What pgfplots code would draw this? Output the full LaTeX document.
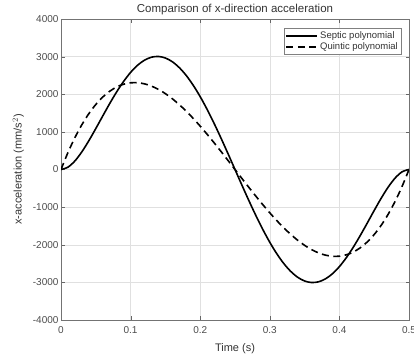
\documentclass[border=0pt]{standalone}
\usepackage{pgfplots}
\pgfplotsset{compat=1.18}
\usepackage{fontspec}
\setmainfont{Liberation Sans}
\begin{document}
\begin{tikzpicture}
\useasboundingbox (-61pt,-35pt) rectangle (353pt,320pt);
\begin{axis}[
  at={(0,0)}, anchor=south west,
  scale only axis,
  width=348pt, height=301pt,
  xmin=0, xmax=0.5, ymin=-4000, ymax=4000,
  xtick={0,0.1,0.2,0.3,0.4,0.5},
  ytick={-4000,-3000,-2000,-1000,0,1000,2000,3000,4000},
  /pgf/number format/1000 sep={},
  /pgf/number format/assume math mode=true,
  xticklabel style={/pgf/number format/fixed, font=\fontsize{10}{11}\selectfont, text=black!70, yshift=-3pt},
  yticklabel style={font=\fontsize{10}{11}\selectfont, text=black!70, xshift=1pt},
  tick align=inside,
  major tick length=3.5pt,
  tick style={black!60},
  axis line style={black!55},
  grid=major,
  grid style={black!12, line width=0.4pt},
  title={Comparison of x-direction acceleration},
  title style={font=\fontsize{11.5}{12}\selectfont, text=black!80, yshift=-5pt},
  xlabel={Time (s)},
  ylabel={x-acceleration (mm/s$^2$)},
  xlabel style={font=\fontsize{11}{12}\selectfont, text=black!80, yshift=-3pt},
  ylabel style={font=\fontsize{11}{12}\selectfont, text=black!80, yshift=2pt},
  legend style={at={(0.9785,0.9701)}, anchor=north east, font=\fontsize{9.5}{10}\selectfont, draw=black!50, line width=0.4pt, inner sep=1.5pt, row sep=-1.5pt, text=black!80},
  legend cell align=left,
  legend image code/.code={\draw[#1] (0pt,0pt) -- (31pt,0pt);},
]
\addplot[black, line width=1.6pt, smooth] coordinates {
(0,0) (0.01,62.0) (0.02,227.9) (0.03,470.3) (0.04,764.4) (0.05,1088.6) (0.06,1423.8) (0.07,1753.5) (0.08,2063.6) (0.09,2342.4) (0.10,2580.5) (0.11,2770.3) (0.12,2906.4) (0.13,2985.1) (0.14,3004.3) (0.15,2963.5) (0.16,2863.7) (0.17,2707.1) (0.18,2497.1) (0.19,2238.1) (0.20,1935.4) (0.21,1595.1) (0.22,1224.0) (0.23,829.3) (0.24,418.7) (0.25,0)
(0.26,-418.7) (0.27,-829.3) (0.28,-1224.0) (0.29,-1595.1) (0.30,-1935.4) (0.31,-2238.1) (0.32,-2497.1) (0.33,-2707.1) (0.34,-2863.7) (0.35,-2963.5) (0.36,-3004.3) (0.37,-2985.1) (0.38,-2906.4) (0.39,-2770.3) (0.40,-2580.5) (0.41,-2342.4) (0.42,-2063.6) (0.43,-1753.5) (0.44,-1423.8) (0.45,-1088.6) (0.46,-764.4) (0.47,-470.3) (0.48,-227.9) (0.49,-62.0) (0.50,0)
};
\addlegendentry{Septic polynomial}
\addplot[black, line width=1.6pt, dash pattern=on 7pt off 4.5pt, smooth] coordinates {
(0,0) (0.01,451.6) (0.02,847.9) (0.03,1191.2) (0.04,1483.8) (0.05,1728.0) (0.06,1926.1) (0.07,2080.5) (0.08,2193.4) (0.09,2267.1) (0.10,2304.0) (0.11,2306.3) (0.12,2276.4) (0.13,2216.4) (0.14,2128.9) (0.15,2016.0) (0.16,1880.1) (0.17,1723.4) (0.18,1548.3) (0.19,1357.1) (0.20,1152.0) (0.21,935.4) (0.22,709.6) (0.23,476.9) (0.24,239.6) (0.25,0)
(0.26,-239.6) (0.27,-476.9) (0.28,-709.6) (0.29,-935.4) (0.30,-1152.0) (0.31,-1357.1) (0.32,-1548.3) (0.33,-1723.4) (0.34,-1880.1) (0.35,-2016.0) (0.36,-2128.9) (0.37,-2216.4) (0.38,-2276.4) (0.39,-2306.3) (0.40,-2304.0) (0.41,-2267.1) (0.42,-2193.4) (0.43,-2080.5) (0.44,-1926.1) (0.45,-1728.0) (0.46,-1483.8) (0.47,-1191.2) (0.48,-847.9) (0.49,-451.6) (0.50,0)
};
\addlegendentry{Quintic polynomial}
\end{axis}
\end{tikzpicture}
\end{document}
